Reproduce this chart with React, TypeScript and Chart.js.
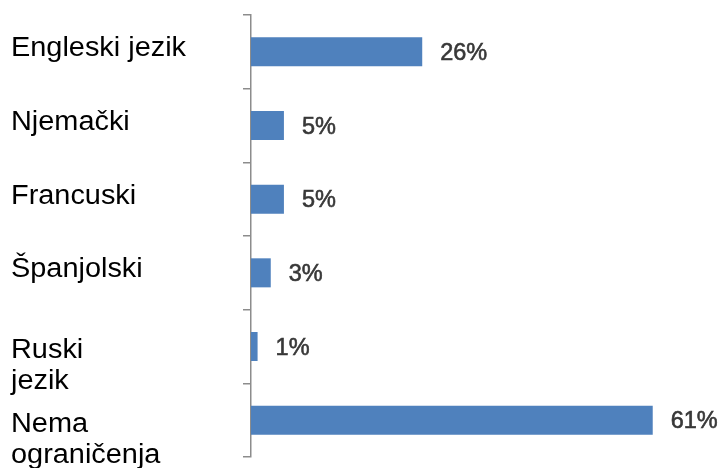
import React, { useEffect, useRef } from "react";
import { Chart, registerables } from "chart.js";

Chart.register(...registerables);

const categories: string[][] = [
  ["Engleski jezik"],
  ["Njemački"],
  ["Francuski"],
  ["Španjolski"],
  ["Ruski", "jezik"],
  ["Nema", "ograničenja"],
];
const values: number[] = [26, 5, 5, 3, 1, 61];
const valueSuffix = "%";

const BAR_COLOR = "#4F81BD";
const AXIS_COLOR = "#8c8c8c";

const categoryLabelPlugin = {
  id: "categoryLabels",
  afterDraw(chart: any) {
    const yScale = chart.scales.y;
    const ctx = chart.ctx as CanvasRenderingContext2D;
    ctx.save();
    ctx.fillStyle = "#000000";
    ctx.font = '27px "Liberation Sans", Arial, sans-serif';
    ctx.textAlign = "left";
    ctx.textBaseline = "alphabetic";
    categories.forEach((lines, i) => {
      const cy = yScale.getPixelForValue(i);
      const first = lines.length > 1 ? 11.5 : 4.5;
      lines.forEach((line, j) => {
        ctx.save();
        ctx.translate(11, cy + first + j * 31);
        ctx.scale(1.07, 1);
        ctx.fillText(line, 0, 0);
        ctx.restore();
      });
    });
    ctx.restore();
  },
};

const valueLabelPlugin = {
  id: "valueLabels",
  afterDatasetsDraw(chart: any) {
    const ctx = chart.ctx as CanvasRenderingContext2D;
    const meta = chart.getDatasetMeta(0);
    ctx.save();
    ctx.fillStyle = "#383838";
    ctx.strokeStyle = "#383838";
    ctx.lineWidth = 0.6;
    ctx.font = '23.5px "Liberation Sans", Arial, sans-serif';
    ctx.textAlign = "left";
    ctx.textBaseline = "alphabetic";
    meta.data.forEach((bar: any, i: number) => {
      const text = values[i] + valueSuffix;
      const x = bar.x + 18;
      const y = bar.y + 8;
      ctx.fillText(text, x, y);
      ctx.strokeText(text, x, y);
    });
    ctx.restore();
  },
};

export default function App() {
  const canvasRef = useRef<HTMLCanvasElement | null>(null);

  useEffect(() => {
    if (!canvasRef.current) return;
    const chart = new Chart(canvasRef.current, {
      type: "bar",
      data: {
        labels: categories.map((c) => c.join(" ")),
        datasets: [
          {
            data: values,
            backgroundColor: BAR_COLOR,
            borderWidth: 0,
            barPercentage: 0.394,
            categoryPercentage: 1,
          },
        ],
      },
      options: {
        indexAxis: "y",
        responsive: false,
        animation: false,
        layout: { padding: { top: 15, bottom: 11, left: 0, right: 9 } },
        plugins: {
          legend: { display: false },
          tooltip: { enabled: false },
        },
        scales: {
          x: { display: false, min: 0, max: 70 },
          y: {
            type: "category",
            offset: true,
            grid: {
              offset: true,
              drawOnChartArea: false,
              drawTicks: true,
              tickLength: 8,
              color: AXIS_COLOR,
              lineWidth: 1.5,
            },
            border: { display: true, color: AXIS_COLOR, width: 1.5 },
            ticks: { display: false },
            afterFit: (scale: any) => {
              scale.width = 251;
            },
          },
        },
      },
      plugins: [categoryLabelPlugin, valueLabelPlugin],
    });
    return () => chart.destroy();
  }, []);

  return (
    <div style={{ position: "absolute", left: 0, top: 0, width: 721, height: 468, background: "#ffffff" }}>
      <canvas ref={canvasRef} width={721} height={468} style={{ display: "block" }} />
    </div>
  );
}
